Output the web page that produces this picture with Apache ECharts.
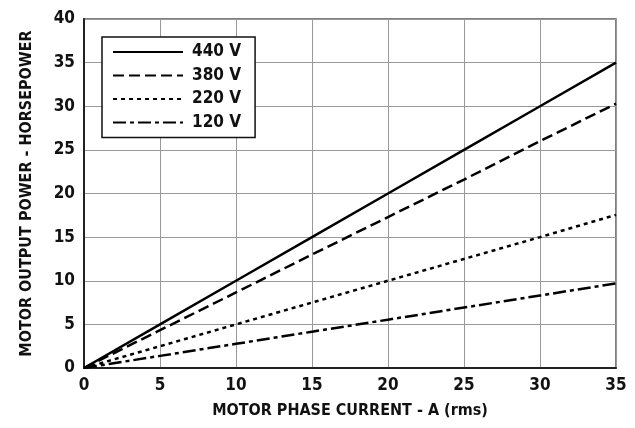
<!DOCTYPE html>
<html><head><meta charset="utf-8">
<script src="https://cdn.jsdelivr.net/npm/echarts@6/dist/echarts.min.js"></script>
<style>html,body{margin:0;padding:0;background:#fff}#c{width:635px;height:428px}</style>
</head><body><div id="c"></div>
<script>
const currents = [0, 5, 10, 15, 20, 25, 30, 35];
const hp440 = [0, 5, 10, 15, 20, 25, 30, 35];
const hp380 = [0, 4.33, 8.66, 13.0, 17.3, 21.6, 26.0, 30.3];
const hp220 = [0, 2.5, 5.0, 7.5, 10.0, 12.5, 15.0, 17.55];
const hp120 = [0, 1.39, 2.77, 4.16, 5.54, 6.93, 8.31, 9.7];
const seriesNames = ['440 V', '380 V', '220 V', '120 V'];
const xTitle = 'MOTOR PHASE CURRENT - A (rms)';
const yTitle = 'MOTOR OUTPUT POWER - HORSEPOWER';

const FONT = '"DejaVu Sans Condensed", "Liberation Sans Narrow", sans-serif';
const pairs = a => currents.map((x, i) => [x, a[i]]);
const styles = [
  {type: 'solid'},
  {type: [11, 5]},
  {type: [4, 4]},
  {type: [13, 4, 4, 4]}
];
const data = [hp440, hp380, hp220, hp120];

const chart = echarts.init(document.getElementById('c'));
chart.setOption({
  animation: false,
  backgroundColor: '#fff',
  grid: {left: 84, right: 19, top: 19, bottom: 60, show: true, borderColor: '#555', borderWidth: 1.5},
  legend: {
    orient: 'vertical', left: 102, top: 37,
    padding: [6, 14, 6, 10],
    backgroundColor: '#fff', borderColor: '#111', borderWidth: 1.5,
    itemWidth: 70, itemHeight: 14, itemGap: 5.5,
    itemStyle: {opacity: 0},
    textStyle: {fontFamily: FONT, fontWeight: 'bold', fontSize: 17, lineHeight: 18, color: '#111', padding: [0, 0, 0, 4]},
    data: seriesNames
  },
  xAxis: {
    type: 'value', min: 0, max: 35, interval: 5,
    name: xTitle, nameLocation: 'middle', nameGap: 35,
    nameTextStyle: {fontFamily: FONT, fontWeight: 'bold', fontSize: 16, color: '#111'},
    axisLine: {show: true, lineStyle: {color: '#222', width: 2}},
    axisTick: {show: false},
    splitLine: {show: true, lineStyle: {color: '#999', width: 1}},
    axisLabel: {fontFamily: FONT, fontWeight: 'bold', fontSize: 17, color: '#111', margin: 9}
  },
  yAxis: {
    type: 'value', min: 0, max: 40, interval: 5,
    name: yTitle, nameLocation: 'middle', nameGap: 49, nameRotate: 90,
    nameTextStyle: {fontFamily: FONT, fontWeight: 'bold', fontSize: 16, color: '#111'},
    axisLine: {show: true, lineStyle: {color: '#222', width: 2}},
    axisTick: {show: false},
    splitLine: {show: true, lineStyle: {color: '#999', width: 1}},
    axisLabel: {fontFamily: FONT, fontWeight: 'bold', fontSize: 17, color: '#111', margin: 9}
  },
  series: seriesNames.map((n, i) => ({
    name: n, type: 'line', data: pairs(data[i]),
    symbol: 'none', showSymbol: false,
    lineStyle: Object.assign({color: '#000', width: 2.5}, styles[i]),
    itemStyle: {color: '#000'}
  }))
});
</script></body></html>
